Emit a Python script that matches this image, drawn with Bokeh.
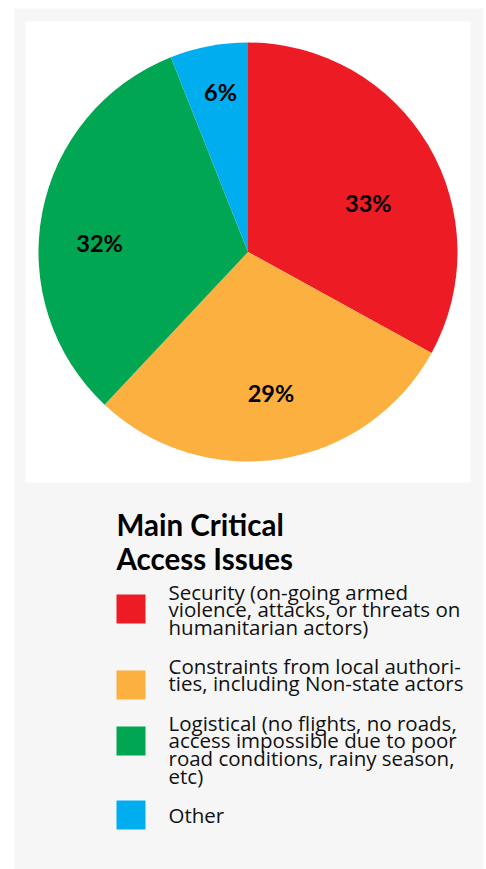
import math
from bokeh.plotting import figure
from bokeh.models import Range1d
from bokeh.core.properties import value
from bokeh.embed import file_html
from bokeh.resources import INLINE

# ---- data ----
categories = ["Security", "Constraints", "Logistical", "Other"]
shares = [33, 29, 32, 6]
pct_labels = ["33%", "29%", "32%", "6%"]
colors = ["#ED1C24", "#FBB040", "#00A651", "#00AEEF"]
legend_title = ["Main Critical", "Access Issues"]
legend_lines = [
    ["Security (on-going armed", "violence, attacks, or threats on", "humanitarian actors)"],
    ["Constraints from local authori-", "ties, including Non-state actors"],
    ["Logistical (no flights, no roads,", "access impossible due to poor", "road conditions, rainy season,", "etc)"],
    ["Other"],
]

# ---- layout (screen pixels, y downwards) ----
W, H = 486, 869
FONT = value("Lato")
BODY_FONT = value("Open Sans")


def sy(y):
    return H - y


p = figure(width=W, height=H, output_backend="svg", toolbar_location=None,
           x_range=Range1d(0, W), y_range=Range1d(0, H), min_border=0)
p.axis.visible = False
p.grid.visible = False
p.outline_line_color = None
p.background_fill_color = "white"
p.border_fill_color = "white"

# panels
p.quad(left=[14], right=[483], top=[sy(8)], bottom=[sy(H + 5)],
       fill_color="#F6F6F6", line_color=None)
p.quad(left=[25], right=[470], top=[sy(21)], bottom=[sy(482)],
       fill_color="white", line_color=None)

# pie
cx, cy, r = 247.5, 251.5, 209.5
total = float(sum(shares))
cum = 0.0
starts, ends, mids = [], [], []
for v in shares:
    a0 = math.pi / 2 - 2 * math.pi * cum / total
    cum += v
    a1 = math.pi / 2 - 2 * math.pi * cum / total
    starts.append(a0)
    ends.append(a1)
    mids.append((a0 + a1) / 2)

p.wedge(x=[cx] * len(shares), y=[sy(cy)] * len(shares), radius=r,
        start_angle=starts, end_angle=ends, direction="clock",
        fill_color=colors, line_color=None)

lab_frac = [0.62, 0.68, 0.71, 0.775]
lab_turn = [-0.147, 0.005, 0.127, -0.018]
lx = [cx + f * r * math.cos(m + t) for f, m, t in zip(lab_frac, mids, lab_turn)]
ly = [sy(cy) + f * r * math.sin(m + t) for f, m, t in zip(lab_frac, mids, lab_turn)]
p.text(x=lx, y=ly, text=pct_labels, text_font=FONT, text_font_style="bold",
       text_font_size="23.5px", text_align="center", text_baseline="middle",
       text_color="black")

# legend title
p.text(x=[116, 116], y=[sy(524), sy(558)], text=legend_title, text_font=FONT,
       text_font_style="bold", text_font_size="29.5px", text_align="left",
       text_baseline="alphabetic", text_color="black")

# legend entries
sq_top = [594, 670, 726, 800]
first_base = [591, 665, 722, 814]
line_gap = 17.8
sq = 29
p.quad(left=[116] * 4, right=[116 + sq] * 4,
       top=[sy(t) for t in sq_top], bottom=[sy(t + sq) for t in sq_top],
       fill_color=colors, line_color=None)

tx, ty, tt = [], [], []
for lines, b in zip(legend_lines, first_base):
    for i, ln in enumerate(lines):
        tx.append(168)
        ty.append(sy(b + i * line_gap))
        tt.append(ln)
p.text(x=tx, y=ty, text=tt, text_font=BODY_FONT, text_font_size="20.5px",
       text_align="left", text_baseline="alphabetic", text_color="#111111")

open("out.html", "w").write(file_html(p, INLINE))
